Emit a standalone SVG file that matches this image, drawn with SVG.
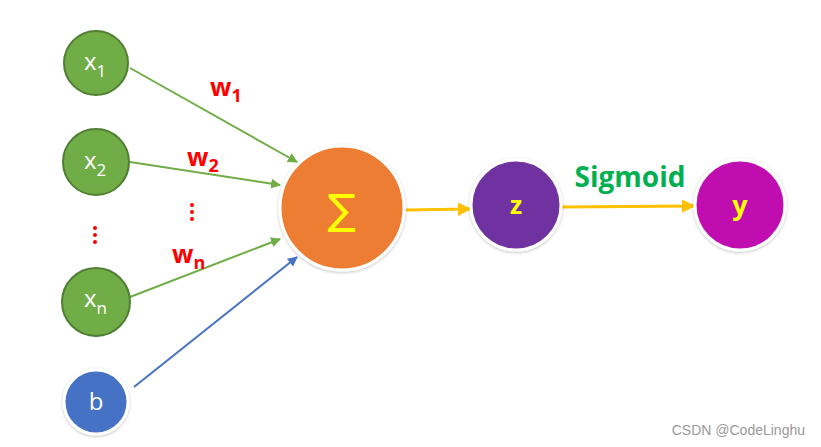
<svg xmlns="http://www.w3.org/2000/svg" width="821" height="447" viewBox="0 0 821 447">
<defs>
<marker id="ag" viewBox="0 0 10 10" refX="9" refY="5" markerWidth="5" markerHeight="5" orient="auto" markerUnits="strokeWidth"><path d="M0,0 L10,5 L0,10 z" fill="#70AD47"/></marker>
<marker id="ab" viewBox="0 0 10 10" refX="9" refY="5" markerWidth="5" markerHeight="5" orient="auto" markerUnits="strokeWidth"><path d="M0,0 L10,5 L0,10 z" fill="#4472C4"/></marker>
<marker id="ay" viewBox="0 0 10 10" refX="9" refY="5" markerWidth="4.5" markerHeight="4.5" orient="auto" markerUnits="strokeWidth"><path d="M0,0 L10,5 L0,10 z" fill="#FFC000"/></marker>
<filter id="sh" x="-20%" y="-20%" width="140%" height="140%"><feDropShadow dx="0" dy="1" stdDeviation="1.5" flood-color="#000" flood-opacity="0.25"/></filter>
</defs>
<style>
.xn{fill:#70AD47;stroke:#507E32;stroke-width:2}
.lbl{font-family:"Open Sans","Liberation Sans",sans-serif;fill:#fff;font-size:24px}
.w{font-family:"Open Sans","Liberation Sans",sans-serif;fill:#FF0000;font-weight:bold;font-size:25px}
.g{stroke:#70AD47;stroke-width:2;fill:none;marker-end:url(#ag)}
.yl{font-family:"Open Sans","Liberation Sans",sans-serif;fill:#FFFF00;font-weight:bold}
.dot{fill:#FF0000}
</style>
<rect width="821" height="447" fill="#fff"/>
<g id="connectors">
<line class="g" x1="130" y1="68" x2="297" y2="162"/>
<line class="g" x1="130" y1="162" x2="280" y2="185"/>
<line class="g" x1="130" y1="297" x2="280" y2="239"/>
<line x1="134" y1="387" x2="297" y2="257" stroke="#4472C4" stroke-width="2" marker-end="url(#ab)"/>
<line x1="406" y1="210" x2="470" y2="209" stroke="#FFC000" stroke-width="3" marker-end="url(#ay)"/>
<line x1="562" y1="207" x2="694" y2="206" stroke="#FFC000" stroke-width="3" marker-end="url(#ay)"/>
</g>
<g id="x1"><circle class="xn" cx="96" cy="63" r="32"/><text class="lbl" x="84" y="70">x<tspan font-size="17" dy="7">1</tspan></text></g>
<g id="x2"><circle class="xn" cx="96" cy="162" r="33"/><text class="lbl" x="84" y="169">x<tspan font-size="17" dy="7">2</tspan></text></g>
<g id="xn"><circle class="xn" cx="96" cy="302" r="34"/><text class="lbl" x="84" y="307">x<tspan font-size="17" dy="7">n</tspan></text></g>
<g id="b"><circle cx="96" cy="402" r="32" fill="#4472C4" stroke="#fff" stroke-width="3" filter="url(#sh)"/><text class="lbl" x="96" y="410" text-anchor="middle">b</text></g>
<g id="sum"><circle cx="342" cy="208" r="62" fill="#ED7D31" stroke="#fff" stroke-width="3" filter="url(#sh)"/><text x="342" y="224" text-anchor="middle" font-family="'DejaVu Sans',sans-serif" font-size="42" fill="#FFFF00">∑</text></g>
<g id="z"><circle cx="516" cy="205" r="45" fill="#7030A0" stroke="#fff" stroke-width="3" filter="url(#sh)"/><text class="yl" x="516" y="214" text-anchor="middle" font-size="25">z</text></g>
<g id="y"><circle cx="740" cy="205" r="45" fill="#C00FAF" stroke="#fff" stroke-width="3" filter="url(#sh)"/><text class="yl" x="740" y="215" text-anchor="middle" font-size="27">y</text></g>
<g id="labels">
<text class="w" x="210" y="96">w<tspan font-size="18" dy="6">1</tspan></text>
<text class="w" x="187" y="166">w<tspan font-size="18" dy="6">2</tspan></text>
<text class="w" x="172" y="263">w<tspan font-size="18" dy="6">n</tspan></text>
<circle class="dot" cx="192" cy="205" r="2"/><circle class="dot" cx="192" cy="212" r="2"/><circle class="dot" cx="192" cy="219" r="2"/>
<circle class="dot" cx="95" cy="228" r="2"/><circle class="dot" cx="95" cy="235" r="2"/><circle class="dot" cx="95" cy="242" r="2"/>
<text x="630" y="187" text-anchor="middle" font-family="'Open Sans','Liberation Sans',sans-serif" font-weight="bold" font-size="28" fill="#00B050">Sigmoid</text>
<text x="805" y="435" text-anchor="end" font-family="'Liberation Sans',sans-serif" font-size="14" fill="#999">CSDN @CodeLinghu</text>
</g>
</svg>
